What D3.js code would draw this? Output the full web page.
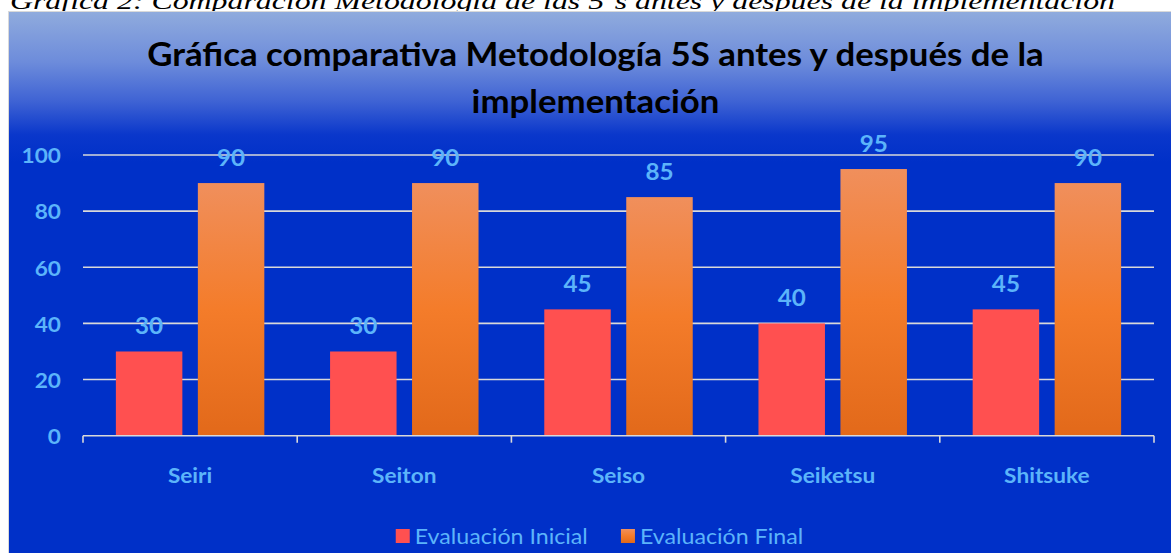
<!DOCTYPE html>
<html><head><meta charset="utf-8">
<script src="https://cdn.jsdelivr.net/npm/d3@7"></script>
<style>
html,body{margin:0;padding:0;background:#fff;overflow:hidden}
svg{display:block}
</style></head>
<body>
<svg id="chart" width="1171" height="553"></svg>
<script>
// ---- data ----
const categories = ["Seiri", "Seiton", "Seiso", "Seiketsu", "Shitsuke"];
const seriesNames = ["Evaluación Inicial", "Evaluación Final"];
const inicial = [30, 30, 45, 40, 45];
const final = [90, 90, 85, 95, 90];
const yTicks = [0, 20, 40, 60, 80, 100];
const titleLines = ["Gráfica comparativa Metodología 5S antes y después de la", "implementación"];
const caption = "Gráfica 2: Comparación Metodología de las 5´s antes y después de la implementación";

// ---- setup ----
const W = 1171, H = 553;
const svg = d3.select("#chart");
const defs = svg.append("defs");
const FONT = "Lato, 'Open Sans', sans-serif";
const TXT = "#5CB4FA";

const bg = defs.append("linearGradient").attr("id", "bg").attr("x1", 0).attr("y1", 0).attr("x2", 0).attr("y2", 1);
[[0, "#90ABDD"], [0.09, "#6D8CDB"], [0.16, "#3F63D4"], [0.22, "#0A37CB"], [0.27, "#0030C8"], [1, "#0030C8"]]
  .forEach(([o, c]) => bg.append("stop").attr("offset", o).attr("stop-color", c));

const og = defs.append("linearGradient").attr("id", "orange").attr("x1", 0).attr("y1", 0).attr("x2", 0).attr("y2", 1);
[[0, "#F08F5C"], [0.5, "#F47C2A"], [1, "#E2691A"]]
  .forEach(([o, c]) => og.append("stop").attr("offset", o).attr("stop-color", c));

const fills = ["#FF5050", "url(#orange)"];

// caption above chart (partly hidden behind the chart box, as in the source)
svg.append("text").attr("x", 10).attr("y", 9)
  .attr("font-family", "'Liberation Serif', 'Times New Roman', serif")
  .attr("font-style", "italic").attr("font-size", 24).attr("fill", "#000")
  .attr("textLength", 1105).attr("lengthAdjust", "spacingAndGlyphs")
  .text(caption);

// chart box
svg.append("rect").attr("x", 8.5).attr("y", 11.5).attr("width", W).attr("height", 560)
  .attr("fill", "url(#bg)").attr("stroke", "#D9D9D9").attr("stroke-width", 1);

// title
const t1 = svg.append("text").attr("font-family", FONT).attr("font-weight", 700)
  .attr("font-size", 33).attr("fill", "#000").text(titleLines[0]);
const natural = t1.node().getComputedTextLength();
const k = Math.max(0.75, Math.min(1.15, 897 / natural));
const cx = 595.5;
t1.attr("text-anchor", "middle").attr("transform", `translate(${cx},66) scale(${k},1)`);
svg.append("text").attr("font-family", FONT).attr("font-weight", 700)
  .attr("font-size", 33).attr("fill", "#000").attr("text-anchor", "middle")
  .attr("transform", `translate(${cx},113) scale(${k},1)`).text(titleLines[1]);

// scales
const x0 = d3.scaleBand().domain(categories).range([83, 1154]).padding(0);
const x1 = d3.scaleBand().domain(seriesNames).range([0, x0.bandwidth()])
  .paddingInner(0.189).paddingOuter(0.401);
const y = d3.scaleLinear().domain([0, 100]).range([435.7, 155]);

// gridlines
svg.append("g").selectAll("line").data(yTicks.filter(d => d > 0)).join("line")
  .attr("x1", 83).attr("x2", 1154)
  .attr("y1", d => y(d)).attr("y2", d => y(d))
  .attr("stroke", "#D9D9D9").attr("stroke-width", 1.6);

// y tick labels
svg.append("g").selectAll("text").data(yTicks).join("text")
  .attr("font-family", FONT).attr("font-weight", 700).attr("font-size", 21.5)
  .attr("fill", TXT).attr("text-anchor", "end").attr("dominant-baseline", "central")
  .attr("transform", d => `translate(61,${y(d)}) scale(${k},1)`)
  .text(d => d);

// bars
const seriesData = [inicial, final];
const barG = svg.append("g");
categories.forEach((c, i) => {
  seriesNames.forEach((s, j) => {
    const v = seriesData[j][i];
    barG.append("rect")
      .attr("x", x0(c) + x1(s)).attr("width", x1.bandwidth())
      .attr("y", y(v)).attr("height", y(0) - y(v))
      .attr("fill", fills[j]);
    barG.append("text")
      .attr("font-family", FONT).attr("font-weight", 700).attr("font-size", 23)
      .attr("fill", TXT).attr("text-anchor", "middle")
      .attr("transform", `translate(${x0(c) + x1(s) + x1.bandwidth() / 2},${y(v) - 17}) scale(${k},1)`)
      .text(v);
  });
});

// x axis
const xa = svg.append("g");
xa.append("line").attr("x1", 83).attr("x2", 1154).attr("y1", y(0)).attr("y2", y(0))
  .attr("stroke", "#D9D9D9").attr("stroke-width", 1.6);
const boundaries = categories.map(c => x0(c)).concat([x0.range()[1]]);
xa.selectAll("line.tk").data(boundaries).join("line").attr("class", "tk")
  .attr("x1", d => d).attr("x2", d => d).attr("y1", y(0)).attr("y2", y(0) + 7)
  .attr("stroke", "#D9D9D9").attr("stroke-width", 1.6);
xa.selectAll("text").data(categories).join("text")
  .attr("font-family", FONT).attr("font-weight", 700).attr("font-size", 21.5)
  .attr("fill", TXT).attr("text-anchor", "middle")
  .attr("transform", d => `translate(${x0(d) + x0.bandwidth() / 2},483) scale(${k},1)`)
  .text(d => d);

// legend
const lg = svg.append("g");
const items = [];
seriesNames.forEach((s, j) => {
  const g = lg.append("g");
  g.append("rect").attr("x", 0).attr("y", 529).attr("width", 14).attr("height", 14).attr("fill", fills[j]);
  const t = g.append("text").attr("font-family", FONT).attr("font-weight", 400).attr("font-size", 22)
    .attr("fill", TXT).text(s);
  const w = t.node().getComputedTextLength() * k;
  t.attr("transform", `translate(19,544) scale(${k},1)`);
  items.push({ g, w: 19 + w });
});
const gapL = 33;
const total = d3.sum(items, d => d.w) + gapL * (items.length - 1);
let lx = 599.5 - total / 2;
items.forEach(it => { it.g.attr("transform", `translate(${lx},0)`); lx += it.w + gapL; });
</script>
</body></html>
